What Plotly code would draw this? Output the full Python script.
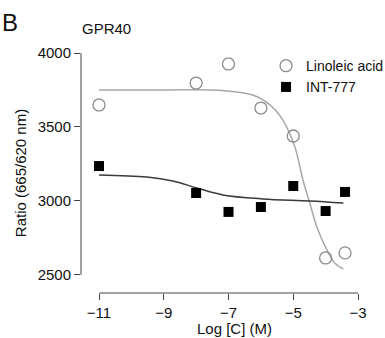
import plotly.graph_objects as go

# Data
log_conc = [-11, -8, -7, -6, -5, -4, -3.4]
linoleic_acid = [3649, 3797, 3926, 3628, 3439, 2615, 2649]
int_777 = [3236, 3054, 2926, 2959, 3101, 2932, 3061]

# Fitted curves
lin_fit_x = [-11, -9, -7.3, -6.25, -5.72, -5.32, -4.95, -4.70, -4.49, -4.27, -3.96, -3.72, -3.45]
lin_fit_y = [3750, 3750, 3748, 3716, 3649, 3547, 3365, 3142, 2986, 2824, 2669, 2581, 2541]
int_fit_x = [-11.0, -9.52, -8.72, -7.98, -7.17, -5.94, -4.49, -3.45]
int_fit_y = [3176, 3162, 3135, 3088, 3041, 3014, 3000, 2986]

x_ticks = [-11, -9, -7, -5, -3]
y_ticks = [2500, 3000, 3500, 4000]

FONT = "Arial, Liberation Sans, sans-serif"

fig = go.Figure()
fig.add_trace(go.Scatter(x=lin_fit_x, y=lin_fit_y, mode="lines", line=dict(color="#a8a8a8", width=1.5, shape="spline"),
                         showlegend=False, hoverinfo="skip"))
fig.add_trace(go.Scatter(x=int_fit_x, y=int_fit_y, mode="lines", line=dict(color="#3a3a3a", width=1.5, shape="spline"),
                         showlegend=False, hoverinfo="skip"))
fig.add_trace(go.Scatter(x=log_conc, y=linoleic_acid, mode="markers", name="Linoleic acid",
                         marker=dict(symbol="circle-open", size=12, color="#8c8c8c", line=dict(width=1.3, color="#8c8c8c"))))
fig.add_trace(go.Scatter(x=log_conc, y=int_777, mode="markers", name="INT-777",
                         marker=dict(symbol="square", size=10, color="#000000")))

fig.update_layout(
    width=385, height=338,
    margin=dict(l=81, r=27, t=53, b=45, autoexpand=False),
    paper_bgcolor="white", plot_bgcolor="white",
    font=dict(family=FONT, size=14, color="#111"),
    xaxis=dict(range=[-11.556, -3], tickvals=x_ticks, ticks="outside", ticklen=6, tickcolor="#444",
               showline=False, showgrid=False, zeroline=False, tickfont=dict(size=15)),
    yaxis=dict(range=[2378, 4000], tickvals=y_ticks, ticks="outside", ticklen=6, tickcolor="#444",
               showline=False, showgrid=False, zeroline=False, tickfont=dict(size=15),
               title=dict(text="Ratio (665/620 nm)", font=dict(size=15), standoff=7)),
    legend=dict(x=0.668, y=1.012, xanchor="left", yanchor="top", bgcolor="rgba(0,0,0,0)",
                font=dict(size=14), tracegroupgap=0, itemwidth=30),
    shapes=[
        dict(type="line", xref="paper", x0=0, x1=0, yref="y", y0=2500, y1=4000, line=dict(color="#444", width=1)),
        dict(type="line", xref="x", x0=-11, x1=-3, yref="paper", y0=0, y1=0, line=dict(color="#444", width=1)),
    ],
    annotations=[
        dict(text="B", xref="paper", yref="paper", x=-81/277, y=(293-22)/240, xanchor="left", yanchor="middle",
             showarrow=False, font=dict(size=24)),
        dict(text="GPR40", xref="paper", yref="paper", x=-1/277, y=(293-29)/240, xanchor="left", yanchor="middle",
             showarrow=False, font=dict(size=15)),
        dict(text="Log [C] (M)", xref="x", yref="paper", x=-6.8, y=-(328-293)/240, xanchor="center", yanchor="middle",
             showarrow=False, font=dict(size=15)),
    ],
)

fig.write_html("out.html", post_script="document.body.style.margin='0';",
               config={"displayModeBar": False})
